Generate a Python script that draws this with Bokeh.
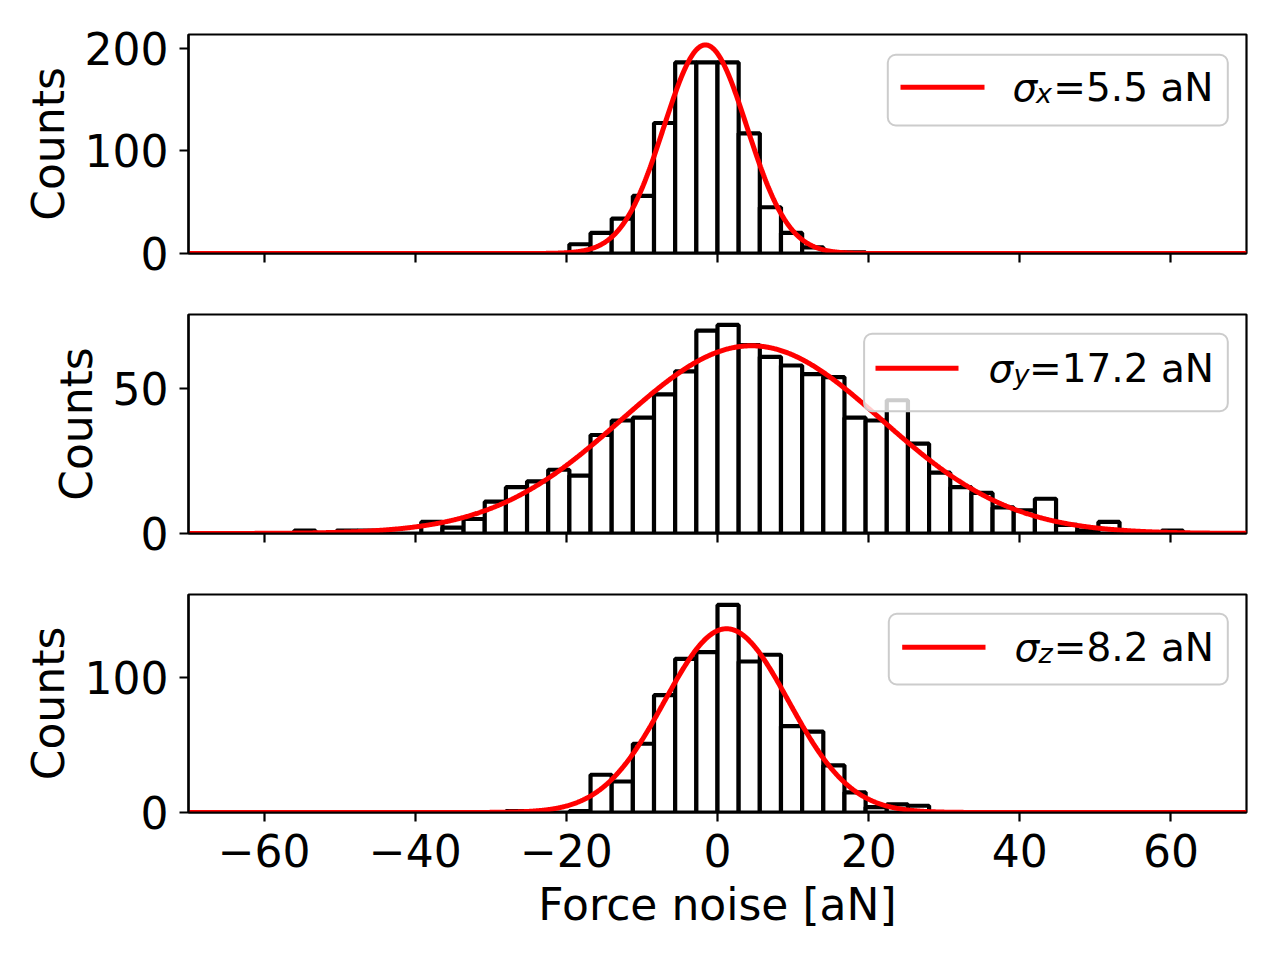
import numpy as np
from bokeh.plotting import figure
from bokeh.models import (Range1d, FixedTicker, CustomJSTickFormatter, Label, BoxAnnotation)
from bokeh.layouts import column
from bokeh.embed import file_html
from bokeh.resources import INLINE

# ---------------- data ----------------
BIN_START = -70.0
BIN_WIDTH = 2.8
N_BINS = 50

counts_x = [0] * 18 + [9, 20, 34, 56, 127, 186, 186, 186, 117, 45, 20, 6, 1, 1] + [0] * 18
counts_y = [0, 0, 0, 0, 0, 1, 0, 1, 1, 0,
            0, 4, 2, 5, 11, 16, 18, 22, 20, 34,
            39, 40, 48, 56, 70, 72, 65, 61, 58, 55,
            54, 40, 39, 46, 31, 21, 16, 14, 9, 8,
            12, 3, 1, 4, 0, 0, 1, 0, 0, 0]
counts_z = [0] * 15 + [1, 0, 0, 1, 28, 23, 51, 87, 114, 119, 154, 112, 117, 64, 60, 35, 15, 4, 6, 5] + [0] * 15

fit_mu = [-1.6, 4.5, 1.2]
fit_sigma = [5.5, 17.2, 8.2]
fit_amp = [203.0, 64.8, 136.3]

axis_names = ["x", "y", "z"]
sigma_text = ["=5.5 aN", "=17.2 aN", "=8.2 aN"]

x_ticks = [-60, -40, -20, 0, 20, 40, 60]
y_ticks = [[0, 100, 200], [0, 50], [0, 100]]
x_label = "Force noise [aN]"
y_label = "Counts"

# ---------------- layout / style ----------------
FONT = "DejaVu Sans"
W = 1272
BORDER_L = 188
BORDER_R = 26
fig_heights = [283, 280, 379]
border_top = [34, 31, 31]
border_bottom = [30, 30, 130]
BAR_LW = 4.2
CURVE_LW = 5.0
TXT_DY = 13.5

# legend geometry (screen px relative to frame bottom-left)
leg_geom = [
    dict(l=699.3, r=1039.3, b=128.0, t=198.7, ll=712.0, lr=796.0, ly=166.3,
         s_x=824, s_y=153, sub_x=847.5, sub_y=147.0, r_x=1025),
    dict(l=675.6, r=1039.3, b=122.3, t=199.7, ll=687.0, lr=770.0, ly=165.3,
         s_x=800, s_y=152, sub_x=825, sub_y=146.0, r_x=1025.5),
    dict(l=700.3, r=1039.3, b=128.0, t=198.7, ll=713.7, lr=797.0, ly=165.3,
         s_x=826, s_y=152, sub_x=850, sub_y=146.0, r_x=1025.5),
]

edges = BIN_START + BIN_WIDTH * np.arange(N_BINS + 1)
xg = np.linspace(-70, 70, 1401)

minus_fmt = CustomJSTickFormatter(code="return tick < 0 ? '\u2212' + (-tick) : '' + tick;")
box_has_radius = "border_radius" in BoxAnnotation.properties()


def screen_box(left, right, bottom, top, **kw):
    args = dict(left=left, right=right, bottom=bottom, top=top,
                left_units="screen", right_units="screen",
                bottom_units="screen", top_units="screen")
    args.update(kw)
    return BoxAnnotation(**args)


all_counts = [counts_x, counts_y, counts_z]
figs = []
for i in range(3):
    counts = np.array(all_counts[i], dtype=float)
    gauss = fit_amp[i] * np.exp(-0.5 * ((xg - fit_mu[i]) / fit_sigma[i]) ** 2)
    ytop = 1.05 * max(counts.max(), gauss.max())

    p = figure(width=W, height=fig_heights[i], output_backend="svg", toolbar_location=None,
               x_range=Range1d(-70, 70), y_range=Range1d(0, ytop),
               min_border_left=BORDER_L, min_border_right=BORDER_R,
               min_border_top=border_top[i], min_border_bottom=border_bottom[i])
    p.xgrid.grid_line_color = None
    p.ygrid.grid_line_color = None
    p.outline_line_color = "black"
    p.outline_line_width = 2.2
    p.background_fill_color = "white"
    p.border_fill_color = "white"

    p.quad(left=edges[:-1], right=edges[1:], bottom=0, top=counts,
           fill_color="white", line_color="black", line_width=BAR_LW)
    p.line(xg, gauss, line_color="#ff0000", line_width=CURVE_LW)

    for ax in (p.xaxis[0], p.yaxis[0]):
        ax.axis_line_color = "black"
        ax.axis_line_width = 2.2
        ax.major_tick_out = 9
        ax.major_tick_in = 0
        ax.major_tick_line_width = 2.2
        ax.minor_tick_line_color = None
        ax.major_label_text_font = FONT
        ax.major_label_text_font_size = "44px"
        ax.major_label_text_color = "black"
        ax.axis_label_text_font = FONT
        ax.axis_label_text_font_size = "44px"
        ax.axis_label_text_font_style = "normal"
        ax.axis_label_text_color = "black"

    p.yaxis.ticker = FixedTicker(ticks=y_ticks[i])
    p.yaxis.major_label_standoff = 11
    p.yaxis.axis_label = y_label
    p.yaxis.axis_label_standoff = 8
    if i < 2:
        # shared x axis: tick marks only, no labels
        p.xaxis.ticker = FixedTicker(ticks=[], minor_ticks=x_ticks)
        p.xaxis.minor_tick_line_color = "black"
        p.xaxis.minor_tick_line_width = 2.2
        p.xaxis.minor_tick_out = 9
        p.xaxis.minor_tick_in = 0
    else:
        p.xaxis.ticker = FixedTicker(ticks=x_ticks)
        p.xaxis.formatter = minus_fmt
        p.xaxis.axis_label = x_label
        p.xaxis.major_label_standoff = 12
        p.xaxis.axis_label_standoff = 9

    # legend (frame, sample line, text)
    g = leg_geom[i]
    frame_kw = dict(fill_color="white", fill_alpha=0.8, line_color="#cccccc",
                    line_width=2, line_alpha=1.0, level="annotation")
    if box_has_radius:
        frame_kw["border_radius"] = 8
    p.add_layout(screen_box(g["l"], g["r"], g["b"], g["t"], **frame_kw))
    p.add_layout(screen_box(g["ll"], g["lr"], g["ly"] - CURVE_LW / 2, g["ly"] + CURVE_LW / 2,
                            fill_color="#ff0000", fill_alpha=1.0, line_color=None,
                            level="overlay"))

    p.add_layout(Label(x=g["s_x"], y=g["s_y"] + TXT_DY, x_units="screen", y_units="screen",
                       text="\u03c3", text_font=FONT, text_font_size="39px",
                       text_font_style="italic", text_align="left", text_baseline="alphabetic",
                       text_color="black", level="overlay"))
    p.add_layout(Label(x=g["sub_x"], y=g["sub_y"] + TXT_DY, x_units="screen", y_units="screen",
                       text=axis_names[i], text_font=FONT, text_font_size="27px",
                       text_font_style="italic", text_align="left", text_baseline="alphabetic",
                       text_color="black", level="overlay"))
    p.add_layout(Label(x=g["r_x"], y=g["s_y"] + TXT_DY, x_units="screen", y_units="screen",
                       text=sigma_text[i], text_font=FONT, text_font_size="39px",
                       text_font_style="normal", text_align="right", text_baseline="alphabetic",
                       text_color="black", level="overlay"))
    figs.append(p)

layout = column(*figs)
open("out.html", "w", encoding="utf-8").write(file_html(layout, INLINE))
